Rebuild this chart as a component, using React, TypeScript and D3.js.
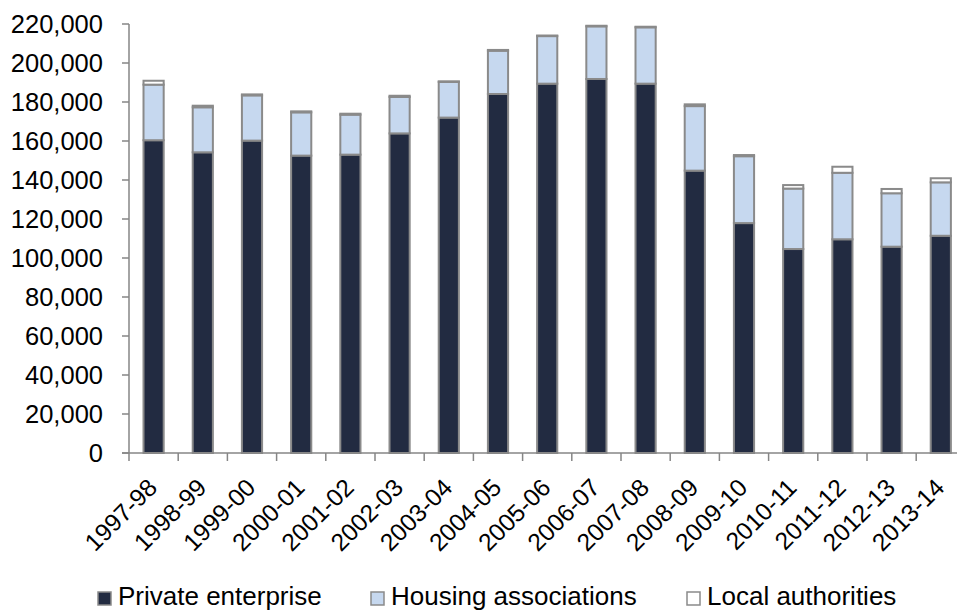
import * as d3 from "d3";

const years = [
  "1997-98", "1998-99", "1999-00", "2000-01", "2001-02", "2002-03", "2003-04",
  "2004-05", "2005-06", "2006-07", "2007-08", "2008-09", "2009-10", "2010-11",
  "2011-12", "2012-13", "2013-14",
];
const privateEnterprise = [
  160400, 154200, 160200, 152500, 153000, 163900, 172000, 184100, 189400,
  191800, 189400, 144800, 117900, 104600, 109600, 105800, 111400,
];
const housingAssociations = [
  28500, 23100, 23200, 22200, 20500, 18700, 18300, 22200, 24400, 27000, 28900,
  33100, 34300, 31000, 34100, 27400, 27400,
];
const localAuthorities = [
  2000, 800, 500, 500, 500, 600, 300, 400, 300, 300, 300, 900, 600, 1800, 3100,
  2200, 2100,
];
const seriesNames = ["Private enterprise", "Housing associations", "Local authorities"];
const seriesColors = ["#222b41", "#c6d8ef", "#ffffff"];
const yTicks = d3.range(0, 220001, 20000);

const W = 957;
const H = 612;
const left = 129;
const step = 49.2;
const font = "'Liberation Sans', Arial, sans-serif";

export default function App() {
  const x = d3
    .scaleBand<string>()
    .domain(years)
    .range([left, left + step * years.length])
    .paddingInner(0.59)
    .paddingOuter(0.295);
  const y = d3.scaleLinear().domain([0, 220000]).range([453, 24]);

  const rows = years.map((yr, i) => ({
    year: yr,
    pe: privateEnterprise[i],
    ha: housingAssociations[i],
    la: localAuthorities[i],
  }));
  const stacked = d3.stack<any>().keys(["pe", "ha", "la"])(rows);

  const legendX = [98, 371, 687];

  return (
    <svg width={W} height={H} style={{ position: "absolute", left: 0, top: 0 }} fontFamily={font}>
      {/* y axis */}
      <line x1={left} x2={left} y1={y(220000)} y2={y(0)} stroke="#868686" strokeWidth={1.5} />
      {yTicks.map((t) => (
        <g key={t}>
          <line x1={left - 7} x2={left} y1={y(t)} y2={y(t)} stroke="#868686" strokeWidth={1.5} />
          <text x={103} y={y(t)} dy="0.35em" textAnchor="end" fontSize={25.5} fill="#000">
            {d3.format(",")(t)}
          </text>
        </g>
      ))}
      {/* bars */}
      {stacked.map((s, si) => (
        <g key={s.key} fill={seriesColors[si]} stroke="#8a8a8a" strokeWidth={2}>
          {s.map((d, i) => (
            <rect
              key={i}
              x={x(years[i])!}
              y={y(d[1])}
              width={x.bandwidth()}
              height={y(d[0]) - y(d[1])}
            />
          ))}
        </g>
      ))}
      {/* x axis */}
      <line x1={left - 7} x2={W} y1={y(0)} y2={y(0)} stroke="#868686" strokeWidth={1.5} />
      {years.map((yr, i) => (
        <line
          key={yr}
          x1={left + step * i}
          x2={left + step * i}
          y1={y(0)}
          y2={y(0) + 8}
          stroke="#868686"
          strokeWidth={1.5}
        />
      ))}
      {years.map((yr) => {
        const cx = x(yr)! + x.bandwidth() / 2 + 5;
        const cy = 489;
        return (
          <text
            key={yr}
            x={cx}
            y={cy}
            textAnchor="end"
            fontSize={24.5}
            transform={`rotate(-45, ${cx}, ${cy})`}
          >
            {yr}
          </text>
        );
      })}
      {/* legend */}
      {seriesNames.map((n, i) => (
        <g key={n}>
          <rect
            x={legendX[i]}
            y={592}
            width={13}
            height={13}
            fill={seriesColors[i]}
            stroke="#8a8a8a"
            strokeWidth={1.5}
          />
          <text x={legendX[i] + 20} y={605} fontSize={26}>
            {n}
          </text>
        </g>
      ))}
    </svg>
  );
}
